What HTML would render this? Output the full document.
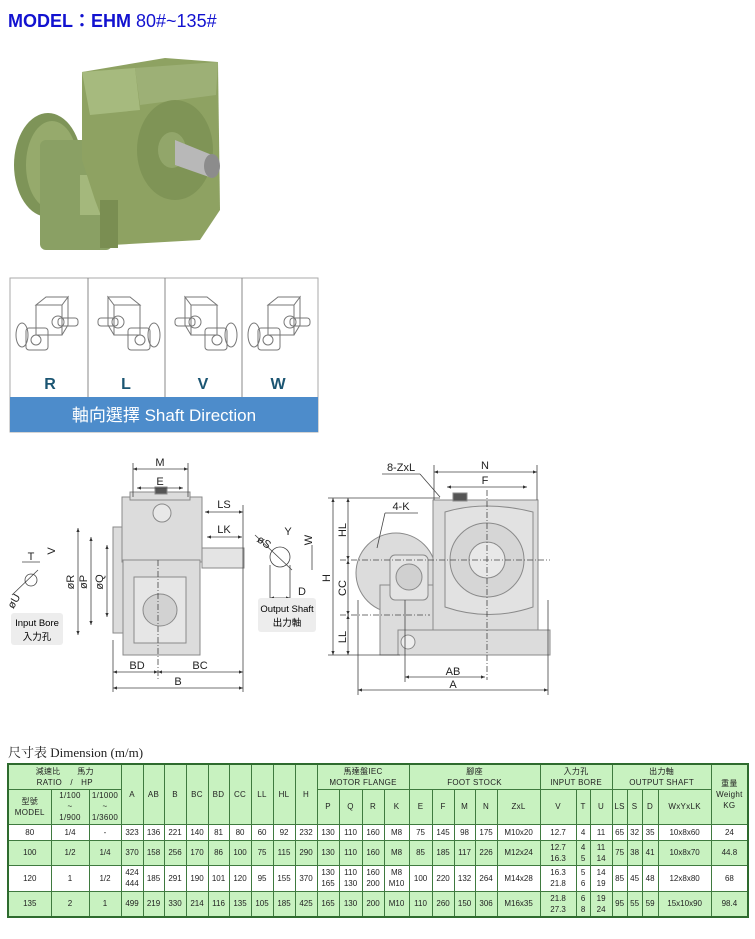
<!DOCTYPE html>
<html><head><meta charset="utf-8">
<style>
body{margin:0;width:755px;height:939px;background:#fff;position:relative;overflow:hidden;font-family:"Liberation Sans","Noto Sans CJK TC",sans-serif}
#title{position:absolute;left:8px;top:7px;font-size:18px;color:#1212d0;font-weight:bold;white-space:nowrap}
#title span{font-weight:normal}
svg{position:absolute;left:0;top:0}
#cap{position:absolute;left:8px;top:742px;font-family:"Liberation Serif","Noto Serif CJK SC",serif;font-size:13px;color:#222}
table{position:absolute;left:7px;top:763px;border-collapse:collapse;table-layout:fixed;width:740px;border:2px solid #2e6b2e}
td{border:1px solid #3f7a3f;font-size:8px;text-align:center;padding:0;color:#222;line-height:11px;overflow:hidden}
tr.h td{line-height:11px;letter-spacing:0.3px}
.g td{background:#c8f2c0}
.w td{background:#fff}
</style></head><body>
<div id="title">MODEL：EHM <span>80#~135#</span></div>

<svg width="755" height="939" viewBox="0 0 755 939" font-family="Liberation Sans, sans-serif">
<defs>
<marker id="a" viewBox="0 0 10 10" refX="10" refY="5" markerWidth="5" markerHeight="5" orient="auto-start-reverse"><path d="M0,1L10,5L0,9z" fill="#333"/></marker>
<g id="ic" fill="none" stroke="#777" stroke-width="1"><path d="M36,305 l10,-8 h22 l-6,8 z M36,305 h26 v30 h-26 z M62,305 l6,-8 v28 l-6,10"/><rect x="26" y="328" width="22" height="22" rx="3"/><circle cx="36" cy="340" r="5"/><ellipse cx="22" cy="335" rx="6" ry="12"/><rect x="58" y="318" width="20" height="8" rx="3"/><circle cx="58" cy="322" r="6"/></g>
</defs>
<!-- photo -->
<g>
<ellipse cx="48" cy="165" rx="34" ry="52" fill="#7e9458"/>
<ellipse cx="52" cy="165" rx="26" ry="44" fill="#96aa6c"/>
<rect x="40" y="140" width="72" height="110" rx="6" fill="#8aa064"/>
<rect x="80" y="175" width="30" height="40" fill="#a4b87c"/>
<polygon points="82,72 165,58 218,62 220,210 200,240 112,245 95,200 82,160" fill="#8ea262"/>
<polygon points="82,72 135,68 140,110 90,115" fill="#a6ba7e"/>
<polygon points="135,68 218,62 216,95 140,105" fill="#9db076"/>
<ellipse cx="175" cy="150" rx="38" ry="50" fill="#7f9456"/>
<ellipse cx="172" cy="150" rx="14" ry="18" fill="#92a66a"/>
<polygon points="175,140 212,155 212,178 175,165" fill="#b8b8b8"/>
<ellipse cx="212" cy="166" rx="8" ry="12" fill="#8c8c8c"/>
<rect x="100" y="200" width="18" height="48" fill="#7a8e52"/>
</g>
<!-- shaft direction panel -->
<rect x="10" y="278" width="308" height="154" fill="#fff" stroke="#aaa"/>
<line x1="88" y1="278" x2="88" y2="398" stroke="#888"/>
<line x1="165" y1="278" x2="165" y2="398" stroke="#888"/>
<line x1="242" y1="278" x2="242" y2="398" stroke="#888"/>
<rect x="10" y="397" width="308" height="35" fill="#4d8ccb"/>
<text x="164" y="421" font-size="17" fill="#fff" text-anchor="middle" font-family="Liberation Sans, Noto Sans CJK TC, sans-serif">軸向選擇 Shaft Direction</text>
<g font-size="16" font-weight="bold" fill="#1b5572" text-anchor="middle">
<text x="50" y="389">R</text><text x="126" y="389">L</text><text x="203" y="389">V</text><text x="278" y="389">W</text></g>
<use href="#ic"/>
<use href="#ic" transform="translate(176,0) scale(-1,1)"/>
<use href="#ic" transform="translate(253,0) scale(-1,1)"/>
<use href="#ic" transform="translate(232,0)"/>
<!-- left drawing -->
<g stroke="#8a8a8a" fill="#dcdcdc" stroke-width="1">
<rect x="113" y="527" width="10" height="106"/>
<rect x="122" y="497" width="80" height="65"/>
<rect x="130" y="492" width="60" height="8"/>
<circle cx="162" cy="513" r="9" fill="#e8e8e8"/>
<rect x="123" y="560" width="77" height="95"/>
<rect x="134" y="577" width="52" height="66" fill="#e6e6e6"/>
<ellipse cx="160" cy="610" rx="17" ry="16" fill="#d2d2d2"/>
<rect x="202" y="548" width="42" height="20" fill="#e4e4e4"/>
<rect x="155" y="487" width="12" height="7" fill="#555"/>
</g>
<g stroke="#444" stroke-width="0.8" fill="none">
<line x1="133" y1="469" x2="188" y2="469" marker-start="url(#a)" marker-end="url(#a)"/>
<line x1="137" y1="488" x2="183" y2="488" marker-start="url(#a)" marker-end="url(#a)"/>
<line x1="205" y1="512" x2="243" y2="512" marker-start="url(#a)" marker-end="url(#a)"/>
<line x1="207" y1="537" x2="242" y2="537" marker-start="url(#a)" marker-end="url(#a)"/>
<line x1="113" y1="672" x2="158" y2="672" marker-start="url(#a)" marker-end="url(#a)"/>
<line x1="158" y1="672" x2="243" y2="672" marker-start="url(#a)" marker-end="url(#a)"/>
<line x1="113" y1="688" x2="243" y2="688" marker-start="url(#a)" marker-end="url(#a)"/>
<line x1="78" y1="528" x2="78" y2="635" marker-start="url(#a)" marker-end="url(#a)"/>
<line x1="91" y1="537" x2="91" y2="625" marker-start="url(#a)" marker-end="url(#a)"/>
<line x1="107" y1="545" x2="107" y2="617" marker-start="url(#a)" marker-end="url(#a)"/>
<line x1="113" y1="640" x2="113" y2="692"/><line x1="243" y1="505" x2="243" y2="692"/>
<line x1="158" y1="560" x2="158" y2="680" stroke-dasharray="6,2,1,2"/>
<line x1="133" y1="463" x2="133" y2="497"/><line x1="188" y1="463" x2="188" y2="497"/>
<circle cx="31" cy="580" r="6"/><line x1="22" y1="562" x2="40" y2="562"/>
<line x1="12" y1="595" x2="38" y2="570"/>
<circle cx="280" cy="557" r="10"/>
<line x1="255" y1="535" x2="292" y2="570"/>
<line x1="270" y1="598" x2="290" y2="598" marker-start="url(#a)" marker-end="url(#a)"/>
<line x1="270" y1="565" x2="270" y2="602"/><line x1="290" y1="565" x2="290" y2="602"/>
<line x1="312" y1="545" x2="312" y2="570"/>
</g>
<g font-size="11" fill="#222" text-anchor="middle">
<text x="160" y="466">M</text><text x="160" y="485">E</text>
<text x="224" y="508">LS</text><text x="224" y="533">LK</text>
<text x="137" y="669">BD</text><text x="200" y="669">BC</text><text x="178" y="685">B</text>
<text transform="translate(74,582) rotate(-90)">øR</text>
<text transform="translate(87,582) rotate(-90)">øP</text>
<text transform="translate(103,582) rotate(-90)">øQ</text>
<text x="31" y="560">T</text>
<text transform="translate(55,551) rotate(-90)">V</text>
<text transform="translate(17,603) rotate(-60)">øU</text>
<text transform="translate(262,545) rotate(35)">øS</text>
<text x="288" y="535">Y</text>
<text transform="translate(312,540) rotate(-90)">W</text>
<text x="302" y="595">D</text>
<text transform="translate(330,578) rotate(-90)">H</text>
<text transform="translate(346,530) rotate(-90)">HL</text>
<text transform="translate(346,588) rotate(-90)">CC</text>
<text transform="translate(346,637) rotate(-90)">LL</text>
<text x="485" y="469">N</text><text x="485" y="484">F</text>
<text x="401" y="471">8-ZxL</text><text x="401" y="510">4-K</text>
<text x="453" y="675">AB</text><text x="453" y="688">A</text>
</g>
<rect x="11" y="613" width="52" height="32" rx="3" fill="#ededed"/>
<text x="37" y="626" font-size="9.5" text-anchor="middle">Input Bore</text>
<text x="37" y="640" font-size="9.5" text-anchor="middle" font-family="Liberation Sans, Noto Sans CJK TC, sans-serif">入力孔</text>
<rect x="258" y="598" width="58" height="34" rx="3" fill="#ededed"/>
<text x="287" y="612" font-size="9.5" text-anchor="middle">Output Shaft</text>
<text x="287" y="626" font-size="9.5" text-anchor="middle" font-family="Liberation Sans, Noto Sans CJK TC, sans-serif">出力軸</text>
<!-- right drawing -->
<g stroke="#8a8a8a" fill="#dcdcdc" stroke-width="1">
<circle cx="396" cy="573" r="40"/>
<rect x="380" y="585" width="55" height="70"/>
<rect x="390" y="555" width="38" height="45" rx="5" fill="#e4e4e4"/>
<circle cx="409" cy="577" r="13" fill="#d0d0d0"/>
<rect x="433" y="500" width="105" height="155"/>
<path d="M445,512 q40,-12 88,0 v95 q-44,15 -88,0 z" fill="#e2e2e2"/>
<circle cx="487" cy="560" r="37" fill="#d6d6d6"/>
<circle cx="487" cy="560" r="18" fill="#e8e8e8"/>
<rect x="398" y="630" width="152" height="25"/>
<circle cx="408" cy="642" r="7" fill="#eee"/>
<rect x="453" y="493" width="14" height="8" fill="#555"/>
</g>
<g stroke="#444" stroke-width="0.8" fill="none">
<line x1="434" y1="472" x2="537" y2="472" marker-start="url(#a)" marker-end="url(#a)"/>
<line x1="447" y1="487" x2="527" y2="487" marker-start="url(#a)" marker-end="url(#a)"/>
<line x1="333" y1="498" x2="333" y2="655" marker-start="url(#a)" marker-end="url(#a)"/>
<line x1="348" y1="498" x2="348" y2="560" marker-start="url(#a)" marker-end="url(#a)"/>
<line x1="348" y1="560" x2="348" y2="615" marker-start="url(#a)" marker-end="url(#a)"/>
<line x1="348" y1="615" x2="348" y2="655" marker-start="url(#a)" marker-end="url(#a)"/>
<line x1="405" y1="677" x2="485" y2="677" marker-start="url(#a)" marker-end="url(#a)"/>
<line x1="358" y1="690" x2="548" y2="690" marker-start="url(#a)" marker-end="url(#a)"/>
<line x1="328" y1="498" x2="440" y2="498"/><line x1="328" y1="655" x2="400" y2="655"/>
<line x1="340" y1="560" x2="550" y2="560" stroke-dasharray="6,2,1,2"/>
<line x1="340" y1="615" x2="430" y2="615" stroke-dasharray="6,2,1,2"/>
<line x1="487" y1="490" x2="487" y2="680" stroke-dasharray="6,2,1,2"/>
<line x1="405" y1="600" x2="405" y2="682"/>
<line x1="358" y1="600" x2="358" y2="695"/><line x1="548" y1="600" x2="548" y2="695"/>
<line x1="434" y1="465" x2="434" y2="500"/><line x1="537" y1="465" x2="537" y2="500"/>
<line x1="382" y1="474" x2="420" y2="474"/><line x1="420" y1="474" x2="440" y2="497"/>
<line x1="385" y1="513" x2="418" y2="513"/><line x1="385" y1="513" x2="377" y2="548"/>
</g>
</svg>

<div id="cap">尺寸表 Dimension (m/m)</div>
<table>
<colgroup>
<col style="width:43px"><col style="width:38px"><col style="width:32px">
<col style="width:22px"><col style="width:21px"><col style="width:22px"><col style="width:22px"><col style="width:21px"><col style="width:22px"><col style="width:22px"><col style="width:22px"><col style="width:22px">
<col style="width:22px"><col style="width:23px"><col style="width:22px"><col style="width:25px">
<col style="width:23px"><col style="width:22px"><col style="width:21px"><col style="width:22px"><col style="width:43px">
<col style="width:36px"><col style="width:14px"><col style="width:22px">
<col style="width:15px"><col style="width:15px"><col style="width:16px"><col style="width:53px">
<col style="width:37px">
</colgroup>
<tr class="g h" style="height:25px"><td colspan="3">減速比　　馬力<br>RATIO　/　HP</td>
<td rowspan="2">A</td><td rowspan="2">AB</td><td rowspan="2">B</td><td rowspan="2">BC</td><td rowspan="2">BD</td><td rowspan="2">CC</td><td rowspan="2">LL</td><td rowspan="2">HL</td><td rowspan="2">H</td>
<td colspan="4">馬達盤IEC<br>MOTOR FLANGE</td><td colspan="5">腳座<br>FOOT STOCK</td><td colspan="3">入力孔<br>INPUT BORE</td><td colspan="4">出力軸<br>OUTPUT SHAFT</td><td rowspan="2">重量<br>Weight<br>KG</td></tr>
<tr class="g h" style="height:35px"><td>型號<br>MODEL</td><td>1/100<br>~<br>1/900</td><td>1/1000<br>~<br>1/3600</td>
<td>P</td><td>Q</td><td>R</td><td>K</td><td>E</td><td>F</td><td>M</td><td>N</td><td>ZxL</td><td>V</td><td>T</td><td>U</td><td>LS</td><td>S</td><td>D</td><td>WxYxLK</td></tr>
<tr class="w" style="height:16px"><td>80</td><td>1/4</td><td>-</td><td>323</td><td>136</td><td>221</td><td>140</td><td>81</td><td>80</td><td>60</td><td>92</td><td>232</td><td>130</td><td>110</td><td>160</td><td>M8</td><td>75</td><td>145</td><td>98</td><td>175</td><td>M10x20</td><td>12.7</td><td>4</td><td>11</td><td>65</td><td>32</td><td>35</td><td>10x8x60</td><td>24</td></tr>
<tr class="g" style="height:25px"><td>100</td><td>1/2</td><td>1/4</td><td>370</td><td>158</td><td>256</td><td>170</td><td>86</td><td>100</td><td>75</td><td>115</td><td>290</td><td>130</td><td>110</td><td>160</td><td>M8</td><td>85</td><td>185</td><td>117</td><td>226</td><td>M12x24</td><td>12.7<br>16.3</td><td>4<br>5</td><td>11<br>14</td><td>75</td><td>38</td><td>41</td><td>10x8x70</td><td>44.8</td></tr>
<tr class="w" style="height:26px"><td>120</td><td>1</td><td>1/2</td><td>424<br>444</td><td>185</td><td>291</td><td>190</td><td>101</td><td>120</td><td>95</td><td>155</td><td>370</td><td>130<br>165</td><td>110<br>130</td><td>160<br>200</td><td>M8<br>M10</td><td>100</td><td>220</td><td>132</td><td>264</td><td>M14x28</td><td>16.3<br>21.8</td><td>5<br>6</td><td>14<br>19</td><td>85</td><td>45</td><td>48</td><td>12x8x80</td><td>68</td></tr>
<tr class="g" style="height:26px"><td>135</td><td>2</td><td>1</td><td>499</td><td>219</td><td>330</td><td>214</td><td>116</td><td>135</td><td>105</td><td>185</td><td>425</td><td>165</td><td>130</td><td>200</td><td>M10</td><td>110</td><td>260</td><td>150</td><td>306</td><td>M16x35</td><td>21.8<br>27.3</td><td>6<br>8</td><td>19<br>24</td><td>95</td><td>55</td><td>59</td><td>15x10x90</td><td>98.4</td></tr>
</table>
</body></html>
